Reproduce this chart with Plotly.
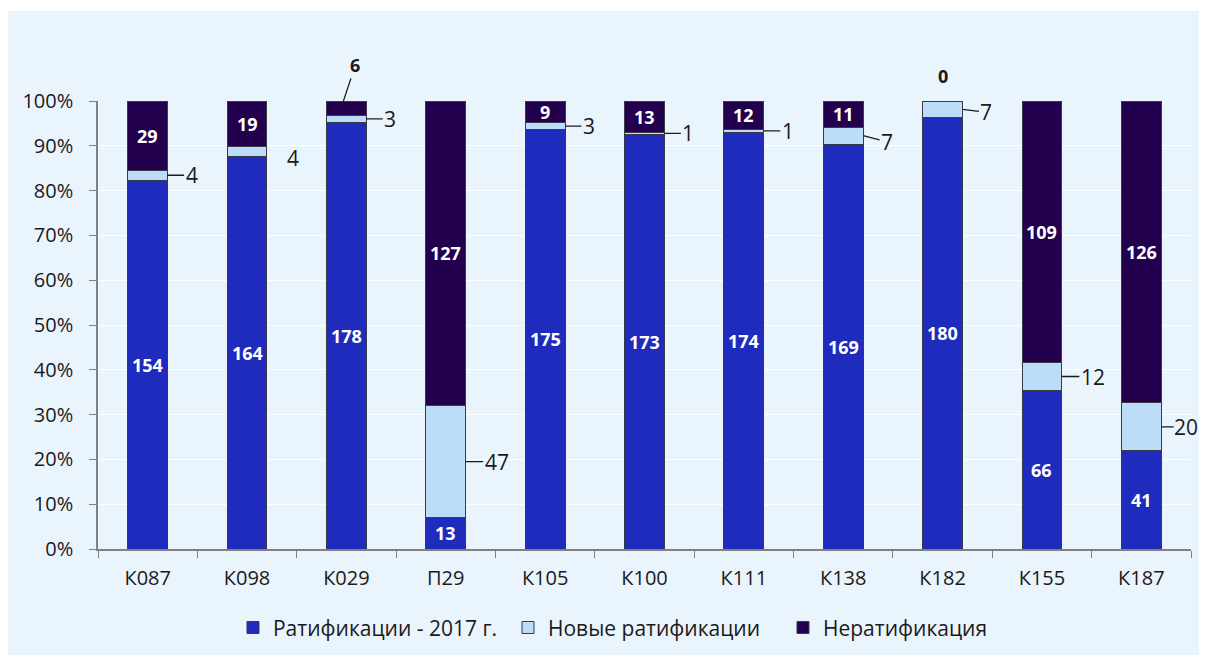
import plotly.graph_objects as go

categories = ["К087", "К098", "К029", "П29", "К105", "К100", "К111", "К138", "К182", "К155", "К187"]
ratified_2017 = [154, 164, 178, 13, 175, 173, 174, 169, 180, 66, 41]
new_ratified = [4, 4, 3, 47, 3, 1, 1, 7, 7, 12, 20]
not_ratified = [29, 19, 6, 127, 9, 13, 12, 11, 0, 109, 126]
series_names = ["Ратификации - 2017 г.", "Новые ратификации", "Нератификация"]

C_DARK = "#1f2bbd"
C_LIGHT = "#bddcf7"
C_PURPLE = "#22004e"
BG = "#eaf4fd"
FONT = "Open Sans"
TXT = "#1a1a1a"

totals = [a + b + c for a, b, c in zip(ratified_2017, new_ratified, not_ratified)]
p1 = [100 * a / t for a, t in zip(ratified_2017, totals)]
p2 = [100 * b / t for b, t in zip(new_ratified, totals)]
p3 = [100 * c / t for c, t in zip(not_ratified, totals)]

fig = go.Figure()
line = dict(color="#3a3a4a", width=1)
for vals, name, col in [(p1, series_names[0], C_DARK), (p2, series_names[1], C_LIGHT), (p3, series_names[2], C_PURPLE)]:
    fig.add_trace(go.Bar(x=categories, y=vals, name=name, width=0.4,
                         marker=dict(color=col, line=line), hoverinfo="skip"))

ann = []
n = len(categories)
for i in range(n):
    ann.append(dict(x=i, y=p1[i] / 2, text=f"<b>{ratified_2017[i]}</b>", showarrow=False,
                    font=dict(color="white", size=18, family=FONT)))
    mid2 = p1[i] + p2[i] / 2
    if i == 1:
        ann.append(dict(x=i + 0.2, y=mid2, text=str(new_ratified[i]), showarrow=False,
                        xanchor="left", xshift=18, yshift=-7,
                        font=dict(color=TXT, size=21, family=FONT)))
    else:
        ay = 0
        if i == 7:
            ay = 6
        if i == 8:
            ay = 3
        ax = 24 if new_ratified[i] < 10 else 31
        if i == n - 1:
            ax = 25
        ann.append(dict(x=i + 0.2, y=mid2, text=str(new_ratified[i]), showarrow=True,
                        arrowhead=0, arrowwidth=1.3, arrowcolor=TXT, standoff=0,
                        ax=ax, ay=ay, borderpad=0 if i == n - 1 else 1,
                        font=dict(color=TXT, size=21, family=FONT)))
    mid3 = p1[i] + p2[i] + p3[i] / 2
    if not_ratified[i] >= 9:
        ann.append(dict(x=i, y=mid3, text=f"<b>{not_ratified[i]}</b>", showarrow=False,
                        font=dict(color="white", size=18, family=FONT)))
    elif not_ratified[i] > 0:
        ann.append(dict(x=i - 0.05, y=mid3 + 0.3, text=f"<b>{not_ratified[i]}</b>", showarrow=True,
                        arrowhead=0, arrowwidth=1.3, arrowcolor=TXT, standoff=0,
                        ax=14, ay=-42, font=dict(color=TXT, size=18, family=FONT)))
    else:
        ann.append(dict(x=i, y=100, text=f"<b>{not_ratified[i]}</b>", showarrow=False,
                        yshift=25, font=dict(color=TXT, size=18, family=FONT)))

fig.update_layout(
    width=1207, height=655,
    margin=dict(l=90, r=24, t=93, b=114, autoexpand=False),
    paper_bgcolor=BG, plot_bgcolor=BG,
    barmode="stack",
    font=dict(family=FONT, color=TXT, size=20),
    annotations=ann,
    showlegend=True,
    legend=dict(orientation="h", x=0.1235, xanchor="left", y=-0.176, yanchor="middle",
                traceorder="normal", entrywidth=230,
                font=dict(size=21, family=FONT, color=TXT), bgcolor="rgba(0,0,0,0)",
                itemwidth=30),
    shapes=[dict(type="rect", xref="paper", yref="paper", x0=-0.1, x1=1.1, y0=1.2009, y1=1.3,
                 fillcolor="white", line=dict(width=0), layer="below")],
)
fig.update_xaxes(type="category", tickson="boundaries", range=[-0.5, n - 0.5],
                 autorange=False, showline=True, linecolor="#808080", linewidth=1.5,
                 ticks="outside", ticklen=7, tickcolor="#808080", automargin=False, ticklabelstandoff=10,
                 showgrid=False, zeroline=False, tickfont=dict(size=20))
fig.update_yaxes(range=[0, 100], autorange=False, tickmode="linear", dtick=10, ticksuffix="%", showline=True,
                 linecolor="#808080", linewidth=1.5, ticks="outside", ticklen=7, tickcolor="#808080",
                 ticklabelstandoff=12,
                 gridcolor="white", gridwidth=1, zeroline=False, tickfont=dict(size=20), automargin=False)

fig.write_html("out.html")
